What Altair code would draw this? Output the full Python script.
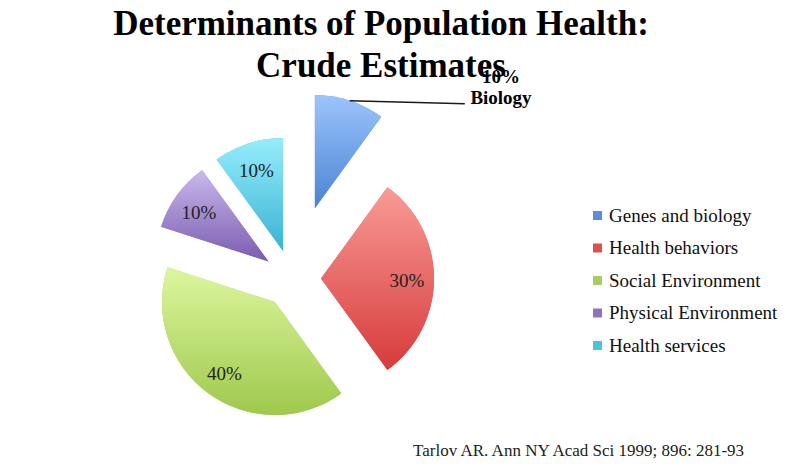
import altair as alt
import pandas as pd

# ---- data ----
categories = ["Genes and biology", "Health behaviors", "Social Environment",
              "Physical Environment", "Health services"]
shares = [10, 30, 40, 10, 10]
slice_labels = ["10%", "30%", "40%", "10%", "10%"]
callout_lines = ["10%", "Biology"]
title_lines = ["Determinants of Population Health:", "Crude Estimates"]
source_note = ["Tarlov AR. Ann NY Acad Sci 1999; 896: 281-93"]

# ---- styles ----
legend_colors = ["#5a8fd8", "#d9534f", "#a6cf62", "#8c72c0", "#4cc2df"]
grad_top = ["#9cc4fb", "#f99b96", "#dcf79e", "#cab8ed", "#95edfb"]
grad_bottom = ["#4a83d4", "#d63b3b", "#9fc84c", "#7a5caf", "#3ab3d5"]
CX, CY = 284.0, 270.6
R = 113
EXPLODE = 29
EXPLODE_FIRST = 74
LABEL_R = 86
SERIF = "Liberation Serif"

df = pd.DataFrame({"cat": categories, "share": shares, "lab": slice_labels,
                   "idx": list(range(len(categories)))})


def grad(top, bottom):
    return {"gradient": "linear", "x1": 0, "y1": 0, "x2": 0, "y2": 1,
            "stops": [{"offset": 0, "color": top}, {"offset": 1, "color": bottom}]}


base = (
    alt.Chart(df)
    .transform_joinaggregate(total="sum(share)")
    .transform_window(cum="sum(share)", sort=[alt.SortField("idx")], frame=[None, 0])
    .transform_calculate(
        t1="datum.cum / datum.total * 2 * PI",
        t0="(datum.cum - datum.share) / datum.total * 2 * PI",
    )
    .transform_calculate(mid="(datum.t0 + datum.t1) / 2",
                         d=f"datum.idx == 0 ? {EXPLODE_FIRST} : {EXPLODE}")
    .transform_calculate(
        cx=f"{CX} + datum.d * sin(datum.mid)",
        cy=f"{CY} - datum.d * cos(datum.mid)",
    )
    .transform_calculate(
        lx=f"datum.cx + {LABEL_R} * sin(datum.mid)",
        ly=f"datum.cy - {LABEL_R} * cos(datum.mid)",
        ex=f"datum.cx + {R} * sin(datum.mid)",
        ey=f"datum.cy - {R} * cos(datum.mid)",
    )
    .transform_calculate(ex2="datum.ex + 115", ey2="datum.ey + 3")
)

pos = dict(
    x=alt.X("cx:Q", scale=None, axis=None),
    y=alt.Y("cy:Q", scale=None, axis=None),
    theta=alt.Theta("t0:Q", scale=None, stack=False),
    theta2="t1:Q",
)

legend_layer = base.mark_arc(radius=R, stroke=None).encode(
    color=alt.Color(
        "cat:N",
        scale=alt.Scale(domain=categories, range=legend_colors),
        legend=alt.Legend(
            title=None, orient="none", legendX=580, legendY=198,
            symbolType="square", symbolSize=81, symbolStrokeWidth=0,
            labelFont=SERIF, labelFontSize=19, labelColor="#111111",
            rowPadding=12.5, labelOffset=2, padding=0, labelLimit=300,
        ),
    ),
    **pos,
)

conds = [{"test": f"datum.idx == {i}", "value": grad(grad_top[i], grad_bottom[i])}
         for i in range(len(categories) - 1)]
last = len(categories) - 1
grad_layer = base.mark_arc(radius=R, stroke=None).encode(
    fill=alt.value(grad(grad_top[last], grad_bottom[last]), condition=conds),
    **pos,
)

labels = base.transform_filter("datum.idx != 0").mark_text(
    font=SERIF, fontSize=19, color="#222222", baseline="middle", align="center", dy=2
).encode(
    x=alt.X("lx:Q", scale=None),
    y=alt.Y("ly:Q", scale=None),
    text="lab:N",
)

leader = base.transform_filter("datum.idx == 0").mark_rule(
    color="#1a1a1a", strokeWidth=1.5
).encode(
    x=alt.X("ex:Q", scale=None), y=alt.Y("ey:Q", scale=None),
    x2="ex2:Q", y2="ey2:Q",
)

one = pd.DataFrame({"k": [0]})
title = alt.Chart(one).mark_text(
    font=SERIF, fontWeight="bold", fontSize=35, align="center",
    baseline="alphabetic", lineHeight=42.4, color="#000000",
).encode(x=alt.value(373), y=alt.value(27), text=alt.value(title_lines))

callout = alt.Chart(one).mark_text(
    font=SERIF, fontWeight="bold", fontSize=19, align="center",
    baseline="alphabetic", lineHeight=20.7, color="#000000",
).encode(x=alt.value(493), y=alt.value(75.3), text=alt.value(callout_lines))

note = alt.Chart(pd.DataFrame({"t": source_note})).mark_text(
    font=SERIF, fontSize=17, align="left", baseline="alphabetic", color="#222222",
).encode(x=alt.value(405), y=alt.value(447.7), text="t:N")

chart = (
    alt.layer(legend_layer, grad_layer, labels, leader, title, callout, note)
    .properties(width=784, height=451, autosize=alt.AutoSizeParams(type="none"),
                padding=0, background="white")
    .configure_view(stroke=None)
)

chart.save("out.html", embed_options={"renderer": "svg", "actions": False})
